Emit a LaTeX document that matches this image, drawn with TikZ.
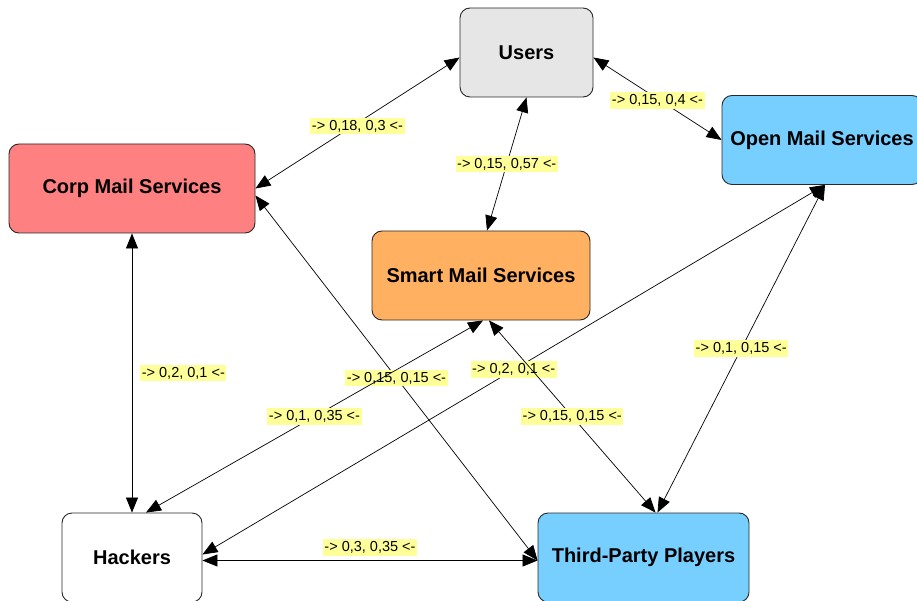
\documentclass[tikz,border=0pt]{standalone}
\usepackage{fontspec}
\setmainfont{Liberation Sans}
\usetikzlibrary{arrows.meta}
\definecolor{usersgray}{RGB}{230,230,230}
\definecolor{corpred}{RGB}{255,128,128}
\definecolor{smartorange}{RGB}{255,176,96}
\definecolor{skyblue}{RGB}{119,207,255}
\definecolor{lblyellow}{RGB}{255,255,153}
\definecolor{edgegray}{RGB}{40,40,40}
\tikzset{
  box/.style={draw=edgegray, line width=0.9pt, rounded corners=10pt, minimum height=89pt,
    inner sep=0pt, font=\bfseries\fontsize{20}{23}\selectfont},
  lbl/.style={fill=lblyellow, inner xsep=1.5pt, inner ysep=2.5pt, font=\fontsize{14.5}{16}\selectfont, text=black},
  link/.style={line width=0.7pt, black, {Triangle[length=15pt,width=12pt]}-{Triangle[length=15pt,width=12pt]}}
}
\begin{document}
\begin{tikzpicture}[x=1pt,y=-1pt]
\clip (0,0) rectangle (917,601);
\fill[white] (0,0) rectangle (917,601);
\node[box, fill=usersgray, minimum width=133pt] (users) at (526.5,52.5) {Users};
\node[box, fill=skyblue, minimum width=200pt] (open) at (822,140) {Open Mail Services};
\node[box, fill=corpred, minimum width=246pt] (corp) at (132,188.5) {Corp Mail Services};
\node[box, fill=smartorange, minimum width=218pt] (smart) at (481,275.5) {Smart Mail Services};
\node[box, fill=white, minimum width=140pt] (hackers) at (132,557.5) {Hackers};
\node[box, fill=skyblue, minimum width=211pt] (tp) at (643.5,557.5) {Third-Party Players};

\draw[link] ([yshift=-5pt]users.west) -- (corp.east) node[midway, lbl, yshift=-3pt] {-> 0,18, 0,3 <-};
\draw[link] ([yshift=-5pt]users.east) -- (open.west) node[midway, lbl, yshift=-2pt] {-> 0,15, 0,4 <-};
\draw[link] (users.south) -- ([xshift=6pt]smart.north) node[midway, lbl] {-> 0,15, 0,57 <-};
\draw[link] (corp.south) -- (hackers.north) node[midway, lbl, anchor=west, xshift=8pt] {-> 0,2, 0,1 <-};
\draw[link] ([yshift=-7pt]corp.east) -- ([yshift=-3pt]tp.west) node[midway, lbl] {-> 0,15, 0,15 <-};
\draw[link] ([xshift=14pt]hackers.north) -- ([xshift=2pt]smart.south) node[midway, lbl] {-> 0,1, 0,35 <-};
\draw[link] ([yshift=3pt]hackers.east) -- ([xshift=3pt]open.south) node[midway, lbl] {-> 0,2, 0,1 <-};
\draw[link] ([xshift=8pt]smart.south) -- ([xshift=12pt]tp.north) node[midway, lbl] {-> 0,15, 0,15 <-};
\draw[link] ([xshift=3pt]open.south) -- ([xshift=14pt]tp.north) node[midway, lbl] {-> 0,1, 0,15 <-};
\draw[link] ([yshift=-3pt]hackers.east) -- ([yshift=-3pt]tp.west) node[midway, lbl, above=4pt] {-> 0,3, 0,35 <-};
\end{tikzpicture}
\end{document}
